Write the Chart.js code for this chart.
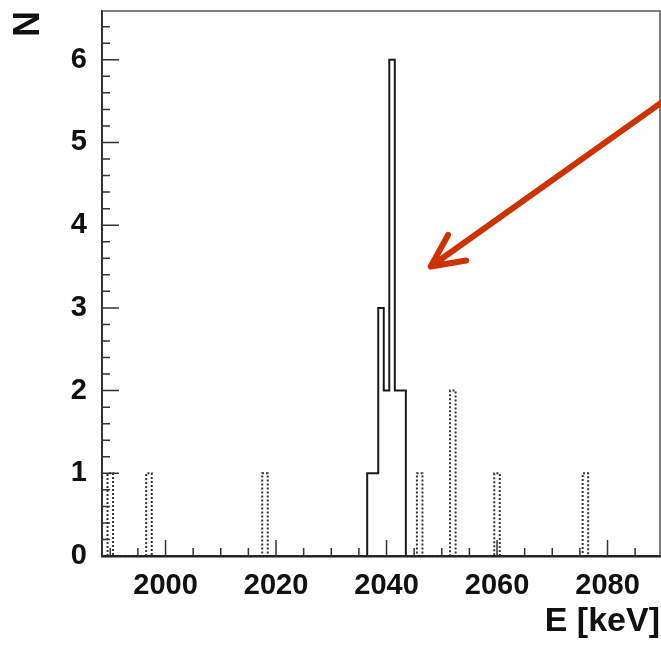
<!DOCTYPE html>
<html>
<head>
<meta charset="utf-8">
<script src="https://cdn.jsdelivr.net/npm/chart.js@4.4.1/dist/chart.umd.min.js"></script>
<style>
body { margin: 0; background: #fff; }
#wrap { width: 661px; height: 647px; }
</style>
</head>
<body>
<div id="wrap"><canvas id="spectrum"></canvas></div>
<script>
// 1 keV bins, given by bin centre
const peakBins = [2037, 2038, 2039, 2040, 2041, 2042, 2043];
const peakCounts = [1, 1, 3, 2, 6, 2, 2];
const sideBins = [1990, 1997, 2018, 2046, 2052, 2060, 2076];
const sideCounts = [1, 1, 1, 1, 2, 1, 1];
const binWidth = 1;

const xTicks = [2000, 2020, 2040, 2060, 2080];
const yTicks = [0, 1, 2, 3, 4, 5, 6];
const xRange = [1988.5, 2089.5];
const yRange = [0, 6.59];

// red arrow, tail runs off the right edge (keV, counts)
const arrowTail = [2092, 5.59];
const arrowHead = [2048, 3.5];

const font = 'Liberation Sans, Arial, Helvetica, sans-serif';

// histogram outline from bins -> points on the edges
function outline(bins, counts) {
    var pts = [];
    bins.forEach(function (b, i) {
        var lo = b - binWidth / 2, hi = b + binWidth / 2;
        if (i === 0 || bins[i - 1] + binWidth !== b) pts.push({ x: lo, y: 0 });
        pts.push({ x: lo, y: counts[i] });
        pts.push({ x: hi, y: counts[i] });
        if (i === bins.length - 1 || bins[i + 1] !== b + binWidth) pts.push({ x: hi, y: 0 });
    });
    return pts;
}

// inside ticks + top/right frame, ROOT style
const frameTicks = {
    id: 'frameTicks',
    afterDatasetsDraw(chart) {
        const { ctx, chartArea: a, scales: { x, y } } = chart;
        ctx.save();
        ctx.strokeStyle = '#333';
        ctx.lineWidth = 1.5;
        ctx.beginPath();
        for (var v = 1990; v <= xRange[1]; v += 5) {
            var px = x.getPixelForValue(v);
            var len = v % 20 === 0 ? 16 : 8;
            ctx.moveTo(px, a.bottom);
            ctx.lineTo(px, a.bottom - len);
        }
        for (var i = 1; i * 0.2 <= yRange[1]; i++) {
            var py = y.getPixelForValue(i * 0.2);
            var l = i % 5 === 0 ? 17 : 8;
            ctx.moveTo(a.left, py);
            ctx.lineTo(a.left + l, py);
        }
        ctx.stroke();
        ctx.beginPath();
        ctx.strokeStyle = '#555';
        ctx.moveTo(a.left, a.top);
        ctx.lineTo(a.right, a.top);
        ctx.lineTo(a.right, a.bottom);
        ctx.stroke();
        ctx.restore();
    }
};

const arrow = {
    id: 'arrow',
    afterDraw(chart) {
        const { ctx, scales: { x, y } } = chart;
        var x0 = x.getPixelForValue(arrowTail[0]), y0 = y.getPixelForValue(arrowTail[1]);
        var x1 = x.getPixelForValue(arrowHead[0]), y1 = y.getPixelForValue(arrowHead[1]);
        var ang = Math.atan2(y0 - y1, x0 - x1);
        var head = 36, spread = 0.45;
        ctx.save();
        ctx.strokeStyle = '#cc3300';
        ctx.lineWidth = 6;
        ctx.lineCap = 'round';
        ctx.lineJoin = 'round';
        ctx.beginPath();
        ctx.moveTo(x0, y0);
        ctx.lineTo(x1, y1);
        ctx.moveTo(x1 + head * Math.cos(ang - spread), y1 + head * Math.sin(ang - spread));
        ctx.lineTo(x1, y1);
        ctx.lineTo(x1 + head * Math.cos(ang + spread), y1 + head * Math.sin(ang + spread));
        ctx.stroke();
        ctx.restore();
    }
};

new Chart(document.getElementById('spectrum'), {
    type: 'line',
    data: {
        datasets: [{
            label: 'side',
            data: outline(sideBins, sideCounts),
            borderColor: '#333',
            borderWidth: 2,
            borderDash: [2, 2],
            pointRadius: 0,
            tension: 0
        },
        {
            label: 'peak',
            data: outline(peakBins, peakCounts),
            borderColor: '#1a1a1a',
            borderWidth: 2,
            pointRadius: 0,
            tension: 0
        }]
    },
    options: {
        responsive: true,
        maintainAspectRatio: false,
        animation: false,
        layout: { padding: { top: 11, right: 1, left: 0, bottom: 0 } },
        plugins: { legend: { display: false }, tooltip: { enabled: false } },
        scales: {
            x: {
                type: 'linear',
                min: xRange[0],
                max: xRange[1],
                grid: { display: false, drawTicks: false },
                border: { display: true, color: '#222', width: 2.5 },
                afterBuildTicks: function (s) { s.ticks = xTicks.map(function (v) { return { value: v }; }); },
                afterFit: function (s) { s.height = 91; s.paddingLeft = 0; s.paddingRight = 0; },
                ticks: {
                    padding: 13,
                    color: '#111',
                    maxRotation: 0,
                    font: { family: font, size: 29, weight: 'bold' },
                    callback: function (v) { return String(v); }
                },
                title: {
                    display: true,
                    text: 'E [keV]',
                    align: 'end',
                    color: '#111',
                    padding: { top: 0, bottom: 5 },
                    font: { family: font, size: 34, weight: 'bold' }
                }
            },
            y: {
                min: yRange[0],
                max: yRange[1],
                grid: { display: false, drawTicks: false },
                border: { display: true, color: '#333', width: 2 },
                afterBuildTicks: function (s) { s.ticks = yTicks.map(function (v) { return { value: v }; }); },
                afterFit: function (s) { s.width = 102; s.paddingTop = 0; s.paddingBottom = 0; },
                ticks: {
                    padding: 15,
                    color: '#111',
                    font: { family: font, size: 29, weight: 'bold' }
                },
                title: {
                    display: true,
                    text: 'N',
                    align: 'end',
                    color: '#111',
                    padding: { top: 7, bottom: 0 },
                    font: { family: font, size: 36, weight: 'bold' }
                }
            }
        }
    },
    plugins: [frameTicks, arrow]
});
</script>
</body>
</html>
